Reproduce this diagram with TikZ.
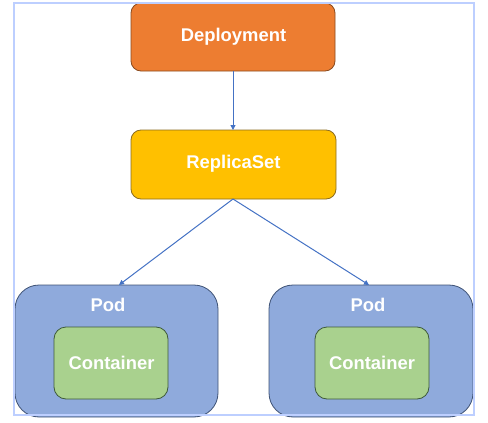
\documentclass[tikz,border=0pt]{standalone}
\usepackage{fontspec}
\setmainfont{Liberation Sans}
\usetikzlibrary{arrows.meta}
\definecolor{depfill}{HTML}{ED7D31}
\definecolor{depline}{HTML}{8A4A1E}
\definecolor{rsfill}{HTML}{FFC000}
\definecolor{rsline}{HTML}{8C6D1F}
\definecolor{podfill}{HTML}{8FAADC}
\definecolor{podline}{HTML}{3E5275}
\definecolor{ctfill}{HTML}{A9D18E}
\definecolor{ctline}{HTML}{3E5A3A}
\definecolor{arrowc}{HTML}{4472C4}
\definecolor{framec}{HTML}{BDCFFF}
\tikzset{
  lbl/.style={text=white,font=\bfseries\fontsize{18.4}{21}\selectfont},
  box/.style={draw,line width=0.8pt,inner sep=0pt},
  conn/.style={draw=arrowc,line width=1pt,-{Triangle[length=5pt,width=5pt]}}
}
\begin{document}
\begin{tikzpicture}[x=1pt,y=-1pt]
\useasboundingbox (0,0) rectangle (488,423);
% boxes
\draw[box,draw=depline,fill=depfill,rounded corners=10pt] (131,3) rectangle (335,71);
\node[lbl] (dep) at (233.5,37) {Deployment};
\coordinate (depb) at (233,71);
\draw[box,draw=rsline,fill=rsfill,rounded corners=10pt] (131,130) rectangle (336,199);
\node[lbl] (rs) at (233.5,164) {ReplicaSet};
\coordinate (rst) at (233,130);
\coordinate (rsb) at (233,199);
\draw[box,draw=podline,fill=podfill,rounded corners=24pt] (15,285) rectangle (218,417);
\draw[box,draw=podline,fill=podfill,rounded corners=24pt] (269,285) rectangle (473,417);
\coordinate (podlt) at (119,285);
\coordinate (podrt) at (369,285);
\node[lbl] (podl) at (108,305) {Pod};
\node[lbl] (podr) at (368,305) {Pod};
\draw[box,draw=ctline,fill=ctfill,rounded corners=12pt] (54,327) rectangle (168,399);
\draw[box,draw=ctline,fill=ctfill,rounded corners=12pt] (315,327) rectangle (429,399);
\node[lbl] (ctl) at (111.5,363) {Container};
\node[lbl] (ctr) at (372,363) {Container};
% connectors
\draw[conn] (depb) -- (rst);
\draw[conn] (rsb) -- (podlt);
\draw[conn] (rsb) -- (podrt);
% frame
\draw[framec,line width=2.2pt] (14,3) rectangle (474,415);
\end{tikzpicture}
\end{document}
